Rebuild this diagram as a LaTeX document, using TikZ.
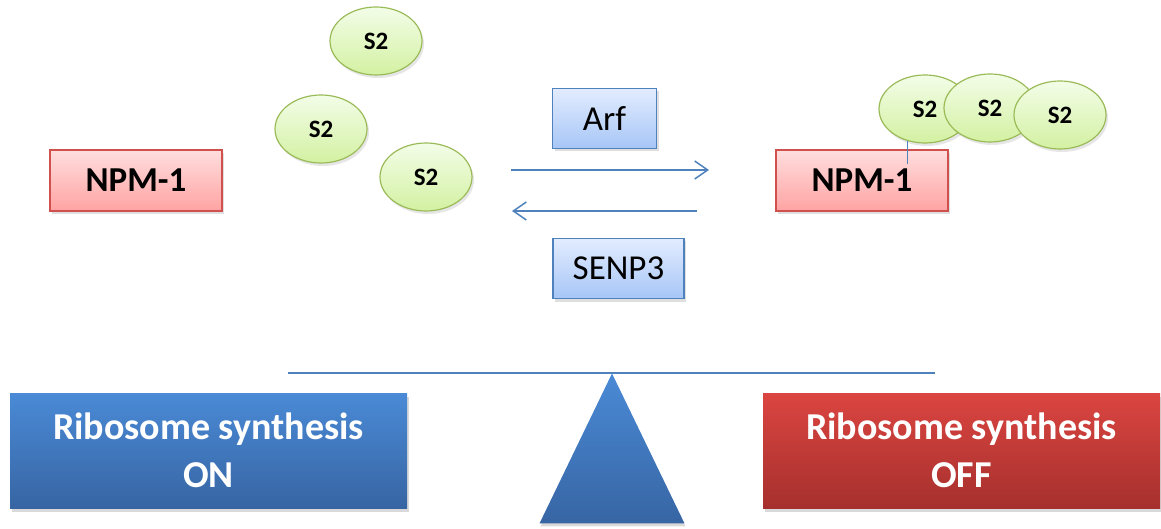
\documentclass[tikz,border=0pt]{standalone}
\usepackage{fontspec}
\setmainfont{Carlito}
\usetikzlibrary{shapes.geometric,arrows.meta,shadows}
\definecolor{npmfillT}{HTML}{FFDEDE}
\definecolor{npmfillB}{HTML}{FFA3A3}
\definecolor{npmline}{HTML}{D0504D}
\definecolor{sfillT}{HTML}{F3FDE8}
\definecolor{sfillB}{HTML}{D3F1A2}
\definecolor{sline}{HTML}{9BBB59}
\definecolor{efillT}{HTML}{E2ECFF}
\definecolor{efillB}{HTML}{A7C6F6}
\definecolor{eline}{HTML}{4F81BD}
\definecolor{onT}{HTML}{4A8AD6}
\definecolor{onB}{HTML}{3765A3}
\definecolor{offT}{HTML}{DB4541}
\definecolor{offB}{HTML}{A6302D}
\tikzset{
  npmbox/.style={rectangle, draw=npmline, line width=1.2pt, top color=npmfillT, bottom color=npmfillB,
    minimum width=172pt, minimum height=61pt, inner sep=0pt,
    font=\fontsize{35}{40}\selectfont\bfseries,
    drop shadow={opacity=0.25, shadow xshift=2pt, shadow yshift=-3pt}},
  s2ell/.style={ellipse, draw=sline, line width=1.2pt, top color=sfillT, bottom color=sfillB,
    minimum width=92pt, minimum height=68pt, inner sep=0pt,
    font=\fontsize{25}{28}\selectfont\bfseries,
    drop shadow={opacity=0.2, shadow xshift=2pt, shadow yshift=-3pt}},
  enzbox/.style={rectangle, draw=eline, line width=1.2pt, top color=efillT, bottom color=efillB,
    minimum height=60pt, inner sep=0pt,
    font=\fontsize{35}{40}\selectfont,
    drop shadow={opacity=0.25, shadow xshift=2pt, shadow yshift=-3pt}},
  bigbox/.style={rectangle, minimum width=397pt, minimum height=115pt, inner sep=0pt,
    text=white, align=center, font=\fontsize{38}{48}\selectfont\bfseries,
    drop shadow={opacity=0.3, shadow xshift=2pt, shadow yshift=-4pt}},
  rxn/.style={draw=eline, line width=1.5pt, -{Straight Barb[length=13pt,width=18pt,line width=1.5pt]}},
  thin/.style={draw=eline, line width=1.5pt},
}
\begin{document}
\begin{tikzpicture}[x=1pt,y=-1pt]
\useasboundingbox (0,0) rectangle (1161,529);
% left side
\node[npmbox] (npmL) at (136,180.5) {NPM-1};
\node[s2ell] (s2l1) at (376,41) {S2};
\node[s2ell] (s2l2) at (321,129) {S2};
\node[s2ell] (s2l3) at (426,177) {S2};
% enzymes
\node[enzbox, minimum width=104pt] (arf) at (604.5,118.5) {Arf};
\node[enzbox, minimum width=131pt] (senp) at (618.5,268.5) {SENP3};
% reaction arrows
\coordinate (fS) at (511,170);
\coordinate (fE) at (709,170);
\coordinate (bS) at (697,211);
\coordinate (bE) at (512,211);
\draw[rxn] (fS) -- (fE);
\draw[rxn] (bS) -- (bE);
% right side
\node[npmbox] (npmR) at (862,180.5) {NPM-1};
\node[s2ell] (s2r1) at (925,109) {S2};
\node[s2ell] (s2r2) at (990,108) {S2};
\node[s2ell] (s2r3) at (1060,115) {S2};
\draw[draw=eline, line width=1.2pt] (s2r1.241.7) -- ++(0,23) coordinate (link);
% balance
\coordinate (beamL) at (288,373);
\coordinate (beamR) at (935,373);
\node[isosceles triangle, isosceles triangle apex angle=51.6, shape border rotate=90,
  minimum height=150pt, inner sep=0pt, anchor=apex, top color=onT, bottom color=onB,
  isosceles triangle stretches=true, minimum width=145pt,
  drop shadow={opacity=0.3, shadow xshift=1pt, shadow yshift=-3pt}] (fulcrum) at (612,373) {};
\draw[thin] (beamL) -- (beamR);
\node[bigbox, top color=onT, bottom color=onB] (on) at (208.5,450.5) {Ribosome synthesis\\ON};
\node[bigbox, top color=offT, bottom color=offB] (off) at (961.5,450.5) {Ribosome synthesis\\OFF};
\end{tikzpicture}
\end{document}
